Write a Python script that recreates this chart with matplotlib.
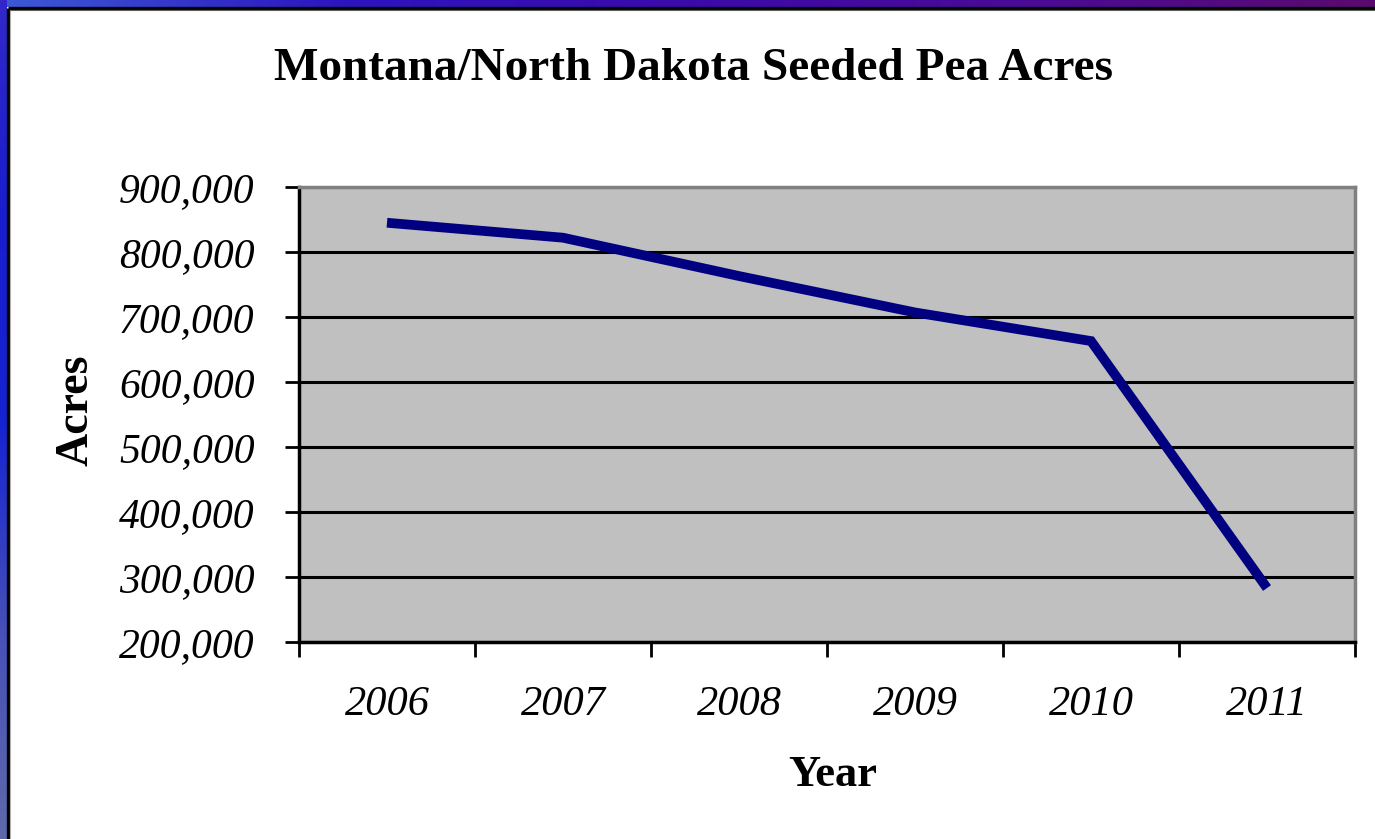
import matplotlib
matplotlib.use("Agg")
import matplotlib.pyplot as plt
import numpy as np
from matplotlib.ticker import FuncFormatter, FixedLocator

years = ["2006", "2007", "2008", "2009", "2010", "2011"]
acres = [845000, 822000, 763000, 707000, 663000, 283000]
yticks = [200000, 300000, 400000, 500000, 600000, 700000, 800000, 900000]

title = "Montana/North Dakota Seeded Pea Acres"
xlabel = "Year"
ylabel = "Acres"

W, H = 1375, 839
fig = plt.figure(figsize=(W / 100, H / 100), dpi=100)
fig.patch.set_facecolor("white")

# decorative border (slide frame)
bg = fig.add_axes([0, 0, 1, 1], zorder=0)
bg.set_xlim(0, W)
bg.set_ylim(H, 0)
bg.axis("off")
top_cols = np.array([[60, 90, 215], [45, 20, 190], [60, 10, 170], [75, 10, 150], [90, 10, 110]]) / 255
n = 300
t = np.linspace(0, 1, n)
xs = np.linspace(0, 1, len(top_cols))
top = np.stack([np.interp(t, xs, top_cols[:, k]) for k in range(3)], axis=-1)[None, :, :]
bg.imshow(top, extent=[0, W, 7, 0], aspect="auto", interpolation="bilinear")
left_cols = np.array([[50, 40, 200], [25, 30, 205], [20, 35, 210], [70, 80, 185], [95, 105, 170]]) / 255
left = np.stack([np.interp(t, xs, left_cols[:, k]) for k in range(3)], axis=-1)[:, None, :]
bg.imshow(left, extent=[0, 7, H, 0], aspect="auto", interpolation="bilinear")
bg.plot([8, 8], [8, H], color="black", lw=2.4, solid_capstyle="butt")
bg.plot([8, W], [8, 8], color="black", lw=2.4, solid_capstyle="butt")
bg.plot([10, 10], [10, H], color="#b0b0b0", lw=0.8)
bg.plot([10, W], [10, 10], color="#606060", lw=0.8)

ax = fig.add_axes([299 / W, 1 - 642 / H, (1355 - 299) / W, (642 - 187) / H], zorder=1)
ax.set_facecolor("#c0c0c0")
x = np.arange(len(years))
ax.plot(x, acres, color="#000080", lw=7, solid_joinstyle="miter", solid_capstyle="butt", zorder=3)
ax.set_xlim(-0.5, len(years) - 0.5)
ax.set_ylim(200000, 900000)
ax.yaxis.set_major_locator(FixedLocator(yticks))
ax.yaxis.set_major_formatter(FuncFormatter(lambda v, p: f"{int(v):,}"))
ax.grid(axis="y", color="black", lw=2.2, zorder=1)
ax.set_axisbelow(True)

ax.xaxis.set_major_locator(FixedLocator(np.arange(-0.5, len(years), 1.0)))
ax.xaxis.set_major_formatter(FuncFormatter(lambda v, p: ""))
ax.set_xticks(x, years, minor=True)
ax.tick_params(axis="x", which="major", direction="out", length=11, width=2, color="black")
ax.tick_params(axis="x", which="minor", length=0, pad=31)
ax.tick_params(axis="y", direction="out", length=10, width=2, pad=22)

fnt = "Liberation Serif"
for lbl in ax.get_xticklabels(minor=True):
    lbl.set_fontfamily(fnt)
    lbl.set_fontstyle("italic")
    lbl.set_fontsize(30.5)
for lbl in ax.get_yticklabels():
    lbl.set_fontfamily(fnt)
    lbl.set_fontstyle("italic")
    lbl.set_fontsize(30)

for side in ["left", "bottom"]:
    ax.spines[side].set_color("black")
    ax.spines[side].set_linewidth(2.5)
for side in ["top", "right"]:
    ax.spines[side].set_color("#808080")
    ax.spines[side].set_linewidth(2.5)

fig.text(693 / W, 1 - 69 / H, title, ha="center", va="center", fontfamily=fnt,
         fontweight="bold", fontsize=34)
fig.text(833 / W, 1 - 775 / H, xlabel, ha="center", va="center", fontfamily=fnt,
         fontweight="bold", fontsize=32)
fig.text(76 / W, 1 - 410 / H, ylabel, ha="center", va="center", rotation=90, fontfamily=fnt,
         fontweight="bold", fontsize=33)

fig.savefig("out.png", dpi=100)
